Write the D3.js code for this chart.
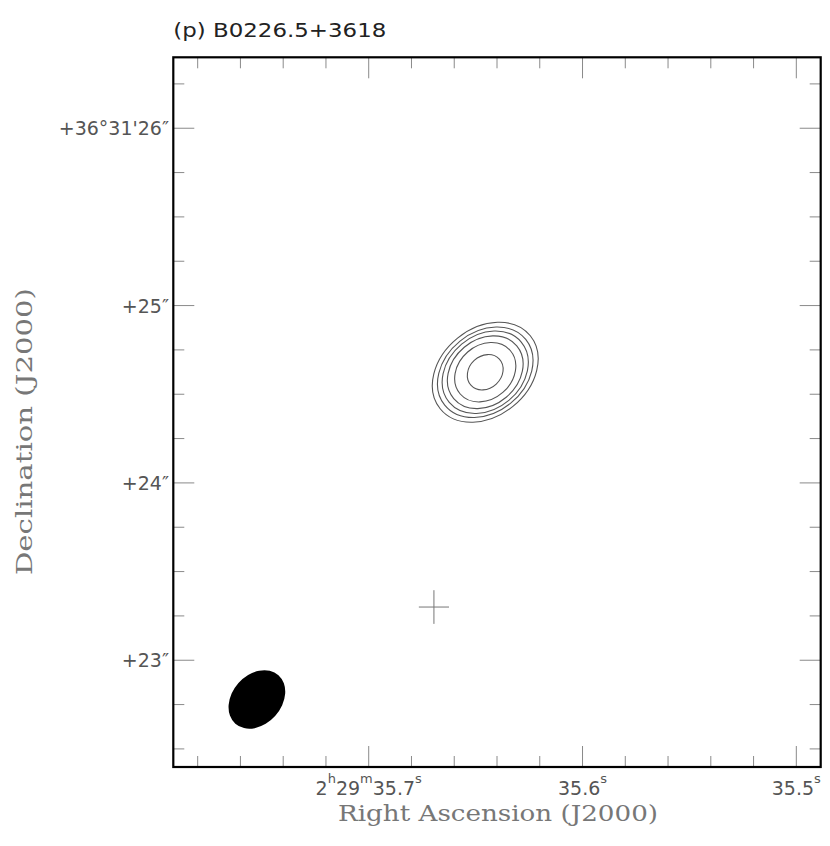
<!DOCTYPE html>
<html><head><meta charset="utf-8">
<script src="https://cdn.jsdelivr.net/npm/d3@7"></script>
<style>body{margin:0;background:#fff}</style>
</head><body>
<svg id="c" width="830" height="846"></svg>
<script>
// ---- data ----
const title = "(p) B0226.5+3618";
const xAxisTitle = "Right Ascension (J2000)";
const yAxisTitle = "Declination (J2000)";
const raDomain = [35.7914, 35.4886];          // RA seconds (2h29m...)
const decDomain = [22.398, 26.400];           // Dec arcsec (+36°31'...)
const decDeg = 36 + 31 / 60 + 24.5 / 3600;
const xMajorTicks = [35.7, 35.6, 35.5];
const xTickLabels = [
  [["2", 0], ["h", 1], ["29", 0], ["m", 1], ["35.7", 0], ["s", 1]],
  [["35.6", 0], ["s", 1]],
  [["35.5", 0], ["s", 1]]
];
const xMinorTicks = [35.78, 35.76, 35.74, 35.72, 35.68, 35.66, 35.64, 35.62, 35.58, 35.56, 35.54, 35.52];
const yMajorTicks = [23, 24, 25, 26];
const yTickLabels = ["+23\u2033", "+24\u2033", "+25\u2033", "+36\u00b031'26\u2033"];
const yMinorTicks = [22.5, 22.75, 23.25, 23.5, 23.75, 24.25, 24.5, 24.75, 25.25, 25.5, 25.75, 26.25];

// source contours (ellipse approximations, arcsec)
const srcRA = 35.6455, srcDec = 24.624;
const contourMajor = [0.327, 0.294, 0.265, 0.232, 0.187, 0.109];
const contourMinor = [0.248, 0.226, 0.207, 0.184, 0.151, 0.091];
const contourPA = [-51, -51, -50, -50, -49, -47];
// restoring beam
const beamRA = 35.7523, beamDec = 22.779, beamMajor = 0.183, beamMinor = 0.139, beamPA = -41.6;
// position marker
const markRA = 35.6695, markDec = 23.300, markHalfRA = 0.085, markHalfDec = 0.095;

// ---- layout ----
const L = 173.3, R = 820.7, T = 57.3, B = 767;
const svg = d3.select("#c");
const x = d3.scaleLinear().domain(raDomain).range([L, R]);
const y = d3.scaleLinear().domain(decDomain).range([B, T]);
const pxPerArcsec = Math.abs(y(decDomain[0] + 1) - y(decDomain[0]));
const raSecPerArcsec = 1 / (15 * Math.cos(decDeg * Math.PI / 180));

const tickColor = "#8a8a8a";
const minorLen = 11, majorLen = 21;

// ticks
const gt = svg.append("g").attr("stroke", tickColor).attr("stroke-width", 1);
function xt(v, len) {
  gt.append("line").attr("x1", x(v)).attr("x2", x(v)).attr("y1", B).attr("y2", B - len);
  gt.append("line").attr("x1", x(v)).attr("x2", x(v)).attr("y1", T).attr("y2", T + len);
}
function yt(v, len) {
  gt.append("line").attr("y1", y(v)).attr("y2", y(v)).attr("x1", L).attr("x2", L + len);
  gt.append("line").attr("y1", y(v)).attr("y2", y(v)).attr("x1", R).attr("x2", R - len);
}
xMinorTicks.forEach(v => xt(v, minorLen));
xMajorTicks.forEach(v => xt(v, majorLen));
yMinorTicks.forEach(v => yt(v, minorLen));
yMajorTicks.forEach(v => yt(v, majorLen));

// contours
svg.append("g").selectAll("ellipse").data(contourMajor).join("ellipse")
  .attr("cx", x(srcRA)).attr("cy", y(srcDec))
  .attr("rx", d => d * pxPerArcsec)
  .attr("ry", (d, i) => contourMinor[i] * pxPerArcsec)
  .attr("transform", (d, i) => `rotate(${-(90 + contourPA[i])},${x(srcRA)},${y(srcDec)})`)
  .attr("fill", "none").attr("stroke", "#555").attr("stroke-width", 1.1);

// beam
svg.append("ellipse")
  .attr("cx", x(beamRA)).attr("cy", y(beamDec))
  .attr("rx", beamMajor * pxPerArcsec).attr("ry", beamMinor * pxPerArcsec)
  .attr("transform", `rotate(${-(90 + beamPA)},${x(beamRA)},${y(beamDec)})`)
  .attr("fill", "#000");

// marker cross
const gm = svg.append("g").attr("stroke", "#777").attr("stroke-width", 1);
gm.append("line").attr("x1", x(markRA + markHalfRA * raSecPerArcsec)).attr("x2", x(markRA - markHalfRA * raSecPerArcsec))
  .attr("y1", y(markDec)).attr("y2", y(markDec));
gm.append("line").attr("x1", x(markRA)).attr("x2", x(markRA))
  .attr("y1", y(markDec + markHalfDec)).attr("y2", y(markDec - markHalfDec));

// frame
svg.append("rect").attr("x", L).attr("y", T).attr("width", R - L).attr("height", B - T)
  .attr("fill", "none").attr("stroke", "#000").attr("stroke-width", 2.2);

// x tick labels
xMajorTicks.forEach((v, i) => {
  const t = svg.append("text").attr("x", x(v)).attr("y", 795)
    .attr("text-anchor", "middle").attr("font-family", "DejaVu Sans").attr("font-size", 19)
    .attr("fill", "#555");
  let sup = false;
  xTickLabels[i].forEach(([s, isSup]) => {
    const ts = t.append("tspan").text(s);
    if (isSup && !sup) { ts.attr("dy", -12).attr("font-size", 13); sup = true; }
    else if (isSup) { ts.attr("font-size", 13); }
    else if (!isSup && sup) { ts.attr("dy", 12); sup = false; }
  });
});

// y tick labels
yMajorTicks.forEach((v, i) => {
  svg.append("text").attr("x", 169).attr("y", y(v) + 7)
    .attr("text-anchor", "end").attr("font-family", "DejaVu Sans").attr("font-size", 19)
    .attr("fill", "#555").text(yTickLabels[i]);
});

// axis titles
svg.append("text").attr("x", (L + R) / 2 + 1).attr("y", 821).attr("text-anchor", "middle")
  .attr("font-family", "DejaVu Serif").attr("font-size", 23).attr("fill", "#777")
  .attr("textLength", 320).attr("lengthAdjust", "spacingAndGlyphs").text(xAxisTitle);
svg.append("text").attr("transform", "translate(32,431.5) rotate(-90)").attr("text-anchor", "middle")
  .attr("font-family", "DejaVu Serif").attr("font-size", 23).attr("fill", "#777")
  .attr("textLength", 287).attr("lengthAdjust", "spacingAndGlyphs").text(yAxisTitle);

// title
svg.append("text").attr("x", L).attr("y", 37).attr("font-family", "DejaVu Sans").attr("font-size", 19)
  .attr("fill", "#222").attr("textLength", 213).attr("lengthAdjust", "spacingAndGlyphs").text(title);
</script>
</body></html>
